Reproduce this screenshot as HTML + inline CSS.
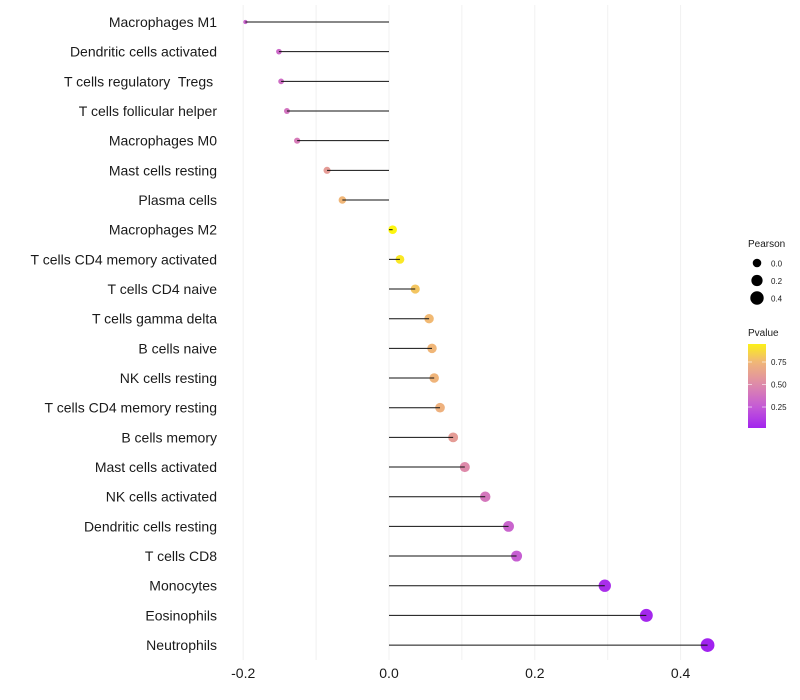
<!DOCTYPE html>
<html><head><meta charset="utf-8"><style>
body{margin:0;background:#fff;font-family:"Liberation Sans",sans-serif}
svg{display:block}
</style></head><body>
<svg id="c" width="800" height="700" xmlns="http://www.w3.org/2000/svg">
<g id="grid"></g><g id="pts"></g><g id="marks"></g><g id="ylab"></g><g id="xlab"></g><g id="legend"></g>
</svg>
<script>
const categories=["Macrophages M1","Dendritic cells activated","T cells regulatory  Tregs ","T cells follicular helper","Macrophages M0","Mast cells resting","Plasma cells","Macrophages M2","T cells CD4 memory activated","T cells CD4 naive","T cells gamma delta","B cells naive","NK cells resting","T cells CD4 memory resting","B cells memory","Mast cells activated","NK cells activated","Dendritic cells resting","T cells CD8","Monocytes","Eosinophils","Neutrophils"];
const pearson=[-0.197,-0.151,-0.148,-0.140,-0.126,-0.085,-0.064,0.005,0.015,0.036,0.055,0.059,0.062,0.070,0.088,0.104,0.132,0.164,0.175,0.296,0.353,0.437];
const pvalue=[0.3,0.33,0.35,0.38,0.42,0.6,0.75,0.97,0.92,0.8,0.76,0.75,0.74,0.72,0.6,0.5,0.4,0.3,0.27,0.06,0.03,0.01];
const xTicks=[-0.2,0,0.2,0.4];
const xTickLabels=["-0.2","0.0","0.2","0.4"];
const gridVals=[-0.2,-0.1,0,0.1,0.2,0.3,0.4];
const sizeLegend=[0.0,0.2,0.4];
const colorTicks=[0.25,0.5,0.75];

const NS="http://www.w3.org/2000/svg";
const X=v=>389+v*729;
const Y=i=>22+i*29.67;
const R=v=>Math.sqrt(Math.max(2,3+(v+0.197)*61.5));
const stops=[[0,[160,32,240]],[0.25,[196,90,214]],[0.5,[222,138,170]],[0.75,[240,182,120]],[1,[255,255,0]]];
function col(p){for(let k=0;k<stops.length-1;k++){const[a,ca]=stops[k],[b,cb]=stops[k+1];if(p<=b){const t=(p-a)/(b-a);return`rgb(${ca.map((c,j)=>Math.round(c+(cb[j]-c)*t)).join(',')})`;}}return"rgb(255,255,0)";}
function mk(tag,attrs,parent,text){const e=document.createElementNS(NS,tag);for(const k in attrs)e.setAttribute(k,attrs[k]);if(text!==undefined)e.textContent=text;document.getElementById(parent).appendChild(e);return e;}

gridVals.forEach(v=>{const l=mk('line',{x1:X(v),x2:X(v),y1:5,y2:660,stroke:'#f1f1f1','stroke-width':1},'grid');

});
categories.forEach((c,i)=>{
 const y=Y(i);
 const p=mk('circle',{cx:X(pearson[i]),cy:y,r:R(pearson[i])+0.4,fill:col(pvalue[i])},'pts');
 
 
 const s=mk('line',{x1:X(0),x2:X(pearson[i]),y1:y,y2:y,stroke:'#111','stroke-width':1},'marks');
 
 
 const t=mk('text',{x:217,y:y+5,'text-anchor':'end','font-size':14,fill:'#1a1a1a'},'ylab',c);
 
 
 t.setAttribute('xml:space','preserve');t.style.whiteSpace='pre';
});
xTicks.forEach((v,i)=>{const t=mk('text',{x:X(v),y:678,'text-anchor':'middle','font-size':14,fill:'#1a1a1a'},'xlab',xTickLabels[i]);

});
const lt=mk('text',{x:748,y:247,'font-size':10,fill:'#1a1a1a'},'legend','Pearson');


sizeLegend.forEach((v,i)=>{const y=263+i*17.5;
 const c=mk('circle',{cx:757,cy:y,r:R(v)+0.4,fill:'#000'},'legend');
 
 
 const t=mk('text',{x:771,y:y+3.5,'font-size':8,fill:'#1a1a1a'},'legend',v.toFixed(1));
 
 });
const pt=mk('text',{x:748,y:336,'font-size':10,fill:'#1a1a1a'},'legend','Pvalue');


const defs=mk('defs',{},'legend');
const g=document.createElementNS(NS,'linearGradient');g.setAttribute('id','pg');g.setAttribute('x1','0');g.setAttribute('y1','1');g.setAttribute('x2','0');g.setAttribute('y2','0');defs.appendChild(g);
for(let k=0;k<=20;k++){const p=0.017+(0.95-0.017)*k/20;const s=document.createElementNS(NS,'stop');s.setAttribute('offset',k/20);s.setAttribute('stop-color',col(p));g.appendChild(s);}
const bar=mk('rect',{x:748,y:344,width:18,height:84,fill:'url(#pg)'},'legend');


const CY=p=>428-(p-0.017)/(0.95-0.017)*84;
colorTicks.forEach(p=>{
 const l=mk('line',{x1:748,x2:752,y1:CY(p),y2:CY(p),stroke:'#fff','stroke-opacity':0.6},'legend');
 
 
 const l2=mk('line',{x1:762,x2:766,y1:CY(p),y2:CY(p),stroke:'#fff','stroke-opacity':0.6},'legend');
 
 
 const t=mk('text',{x:771,y:CY(p)+3,'font-size':8,fill:'#1a1a1a'},'legend',p.toFixed(2));
 
 });
</script>
</body></html>
